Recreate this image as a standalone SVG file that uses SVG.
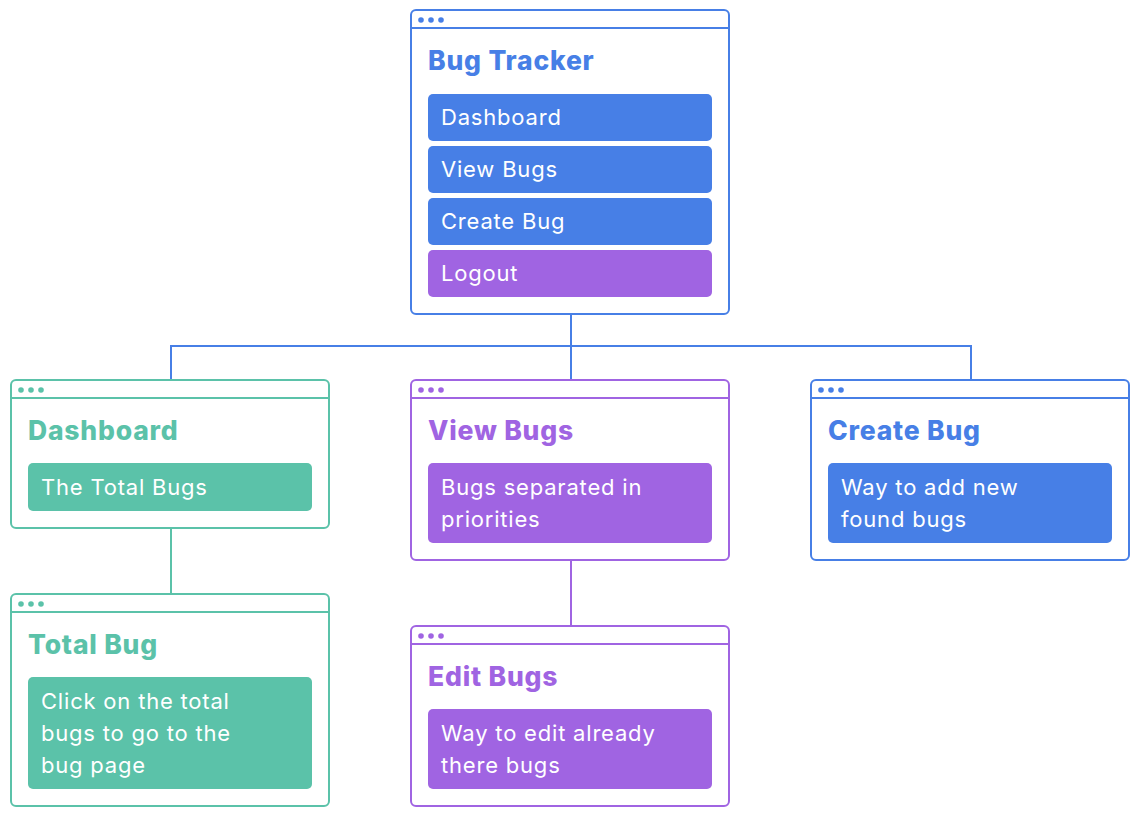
<svg xmlns="http://www.w3.org/2000/svg" width="1141" height="838" viewBox="0 0 1141 838">
<style>
.win{fill:#fff;stroke-width:2}
.b{stroke:#477FE6}.p{stroke:#A064E2}.g{stroke:#5BC2A9}
.fb{fill:#477FE6}.fp{fill:#A064E2}.fg{fill:#5BC2A9}
.title{font-family:Inter,"Liberation Sans",sans-serif;font-size:26.5px;font-weight:800;letter-spacing:0.8px}
.lbl{font-family:Inter,"Liberation Sans",sans-serif;font-size:22px;fill:#fff;letter-spacing:0.8px}
.con{fill:none;stroke-width:2}
</style>
<rect width="1141" height="838" fill="#fff"/>
<g id="connectors">
<path class="con b" d="M571 314V346M171 380V346H971V380M571 346V380"/>
<path class="con g" d="M171 528V594"/>
<path class="con p" d="M571 560V626"/>
</g>
<g id="bug-tracker">
<rect class="win b" x="411" y="10" width="318" height="304" rx="5"/>
<line class="b" x1="411" y1="28" x2="729" y2="28" stroke-width="2"/>
<circle class="fb" cx="421" cy="20" r="2.8"/><circle class="fb" cx="431" cy="20" r="2.8"/><circle class="fb" cx="441" cy="20" r="2.8"/>
<text class="title fb" x="428" y="70">Bug Tracker</text>
<rect class="fb" x="428" y="94" width="284" height="47" rx="5"/>
<text class="lbl" x="441" y="125">Dashboard</text>
<rect class="fb" x="428" y="146" width="284" height="47" rx="5"/>
<text class="lbl" x="441" y="177">View Bugs</text>
<rect class="fb" x="428" y="198" width="284" height="47" rx="5"/>
<text class="lbl" x="441" y="229">Create Bug</text>
<rect class="fp" x="428" y="250" width="284" height="47" rx="5"/>
<text class="lbl" x="441" y="281">Logout</text>
</g>
<g id="dashboard">
<rect class="win g" x="11" y="380" width="318" height="148" rx="5"/>
<line class="g" x1="11" y1="398" x2="329" y2="398" stroke-width="2"/>
<circle class="fg" cx="21" cy="390" r="2.8"/><circle class="fg" cx="31" cy="390" r="2.8"/><circle class="fg" cx="41" cy="390" r="2.8"/>
<text class="title fg" x="28" y="440">Dashboard</text>
<rect class="fg" x="28" y="463" width="284" height="48" rx="5"/>
<text class="lbl" x="41" y="495">The Total Bugs</text>
</g>
<g id="view-bugs">
<rect class="win p" x="411" y="380" width="318" height="180" rx="5"/>
<line class="p" x1="411" y1="398" x2="729" y2="398" stroke-width="2"/>
<circle class="fp" cx="421" cy="390" r="2.8"/><circle class="fp" cx="431" cy="390" r="2.8"/><circle class="fp" cx="441" cy="390" r="2.8"/>
<text class="title fp" x="428" y="440">View Bugs</text>
<rect class="fp" x="428" y="463" width="284" height="80" rx="5"/>
<text class="lbl" x="441" y="495">Bugs separated in</text>
<text class="lbl" x="441" y="527">priorities</text>
</g>
<g id="create-bug">
<rect class="win b" x="811" y="380" width="318" height="180" rx="5"/>
<line class="b" x1="811" y1="398" x2="1129" y2="398" stroke-width="2"/>
<circle class="fb" cx="821" cy="390" r="2.8"/><circle class="fb" cx="831" cy="390" r="2.8"/><circle class="fb" cx="841" cy="390" r="2.8"/>
<text class="title fb" x="828" y="440">Create Bug</text>
<rect class="fb" x="828" y="463" width="284" height="80" rx="5"/>
<text class="lbl" x="841" y="495">Way to add new</text>
<text class="lbl" x="841" y="527">found bugs</text>
</g>
<g id="total-bug">
<rect class="win g" x="11" y="594" width="318" height="212" rx="5"/>
<line class="g" x1="11" y1="612" x2="329" y2="612" stroke-width="2"/>
<circle class="fg" cx="21" cy="604" r="2.8"/><circle class="fg" cx="31" cy="604" r="2.8"/><circle class="fg" cx="41" cy="604" r="2.8"/>
<text class="title fg" x="28" y="654">Total Bug</text>
<rect class="fg" x="28" y="677" width="284" height="112" rx="5"/>
<text class="lbl" x="41" y="709">Click on the total</text>
<text class="lbl" x="41" y="741">bugs to go to the</text>
<text class="lbl" x="41" y="773">bug page</text>
</g>
<g id="edit-bugs">
<rect class="win p" x="411" y="626" width="318" height="180" rx="5"/>
<line class="p" x1="411" y1="644" x2="729" y2="644" stroke-width="2"/>
<circle class="fp" cx="421" cy="636" r="2.8"/><circle class="fp" cx="431" cy="636" r="2.8"/><circle class="fp" cx="441" cy="636" r="2.8"/>
<text class="title fp" x="428" y="686">Edit Bugs</text>
<rect class="fp" x="428" y="709" width="284" height="80" rx="5"/>
<text class="lbl" x="441" y="741">Way to edit already</text>
<text class="lbl" x="441" y="773">there bugs</text>
</g>
</svg>
